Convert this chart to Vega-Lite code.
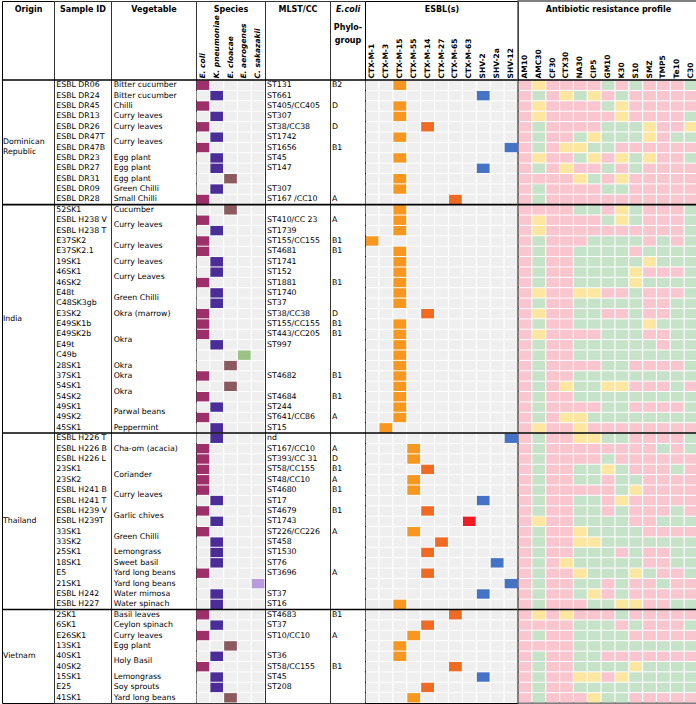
{
"$schema":"https://vega.github.io/schema/vega-lite/v6.json",
"background":"white",
"padding":0,
"spacing":0,
"bounds":"flush",
"resolve":{"scale":{"color":"independent"}},
"config":{
 "view":{"stroke":"#333333","strokeWidth":1},
 "font":"DejaVu Sans",
 "axis":{"labelFont":"DejaVu Sans","titleFont":"DejaVu Sans","labelColor":"black","titleColor":"black","titleFontSize":8,"titleFontWeight":"bold","labelFontSize":7.5,"labelFontWeight":"bold","ticks":false,"tickSize":0,"domain":false,"grid":false,"titlePadding":0,"titleBaseline":"middle","labelOverlap":false,"labelFlush":false,"labelLimit":0},
 "text":{"font":"DejaVu Sans","fontSize":7.8,"color":"black"}
},
"datasets":{"t":[
{"row":0,"origin":"Dominican Republic","id":"ESBL DR06","veg":"Bitter cucumber","vg":1,"species":"E. coli","mlst":"ST131","phylo":"B2","esbl":"CTX-M-15","AM10":"R","AMC30":"I","CF30":"R","CTX30":"R","NA30":"R","CIP5":"R","GM10":"S","K30":"R","S10":"S","SMZ":"R","TMP5":"R","Te10":"R","C30":"S"},
{"row":1,"origin":"Dominican Republic","id":"ESBL DR24","veg":"Bitter cucumber","vg":2,"species":"K. pneumoniae","mlst":"ST661","phylo":"","esbl":"SHV-2","AM10":"R","AMC30":"S","CF30":"R","CTX30":"I","NA30":"S","CIP5":"I","GM10":"R","K30":"S","S10":"R","SMZ":"R","TMP5":"R","Te10":"R","C30":"R"},
{"row":2,"origin":"Dominican Republic","id":"ESBL DR45","veg":"Chilli","vg":3,"species":"E. coli","mlst":"ST405/CC405","phylo":"D","esbl":"CTX-M-15","AM10":"R","AMC30":"I","CF30":"R","CTX30":"R","NA30":"R","CIP5":"R","GM10":"S","K30":"I","S10":"R","SMZ":"R","TMP5":"R","Te10":"R","C30":"R"},
{"row":3,"origin":"Dominican Republic","id":"ESBL DR13","veg":"Curry leaves","vg":4,"species":"K. pneumoniae","mlst":"ST307","phylo":"","esbl":"CTX-M-15","AM10":"R","AMC30":"I","CF30":"R","CTX30":"R","NA30":"R","CIP5":"R","GM10":"R","K30":"I","S10":"R","SMZ":"R","TMP5":"R","Te10":"R","C30":"S"},
{"row":4,"origin":"Dominican Republic","id":"ESBL DR26","veg":"Curry leaves","vg":5,"species":"E. coli","mlst":"ST38/CC38","phylo":"D","esbl":"CTX-M-14","AM10":"R","AMC30":"S","CF30":"R","CTX30":"R","NA30":"R","CIP5":"R","GM10":"S","K30":"S","S10":"S","SMZ":"I","TMP5":"R","Te10":"R","C30":"I"},
{"row":5,"origin":"Dominican Republic","id":"ESBL DR47T","veg":"Curry leaves","vg":6,"species":"K. pneumoniae","mlst":"ST1742","phylo":"","esbl":"CTX-M-15","AM10":"R","AMC30":"S","CF30":"R","CTX30":"R","NA30":"S","CIP5":"I","GM10":"S","K30":"S","S10":"S","SMZ":"I","TMP5":"R","Te10":"S","C30":"S"},
{"row":6,"origin":"Dominican Republic","id":"ESBL DR47B","veg":"Curry leaves","vg":6,"species":"E. coli","mlst":"ST1656","phylo":"B1","esbl":"SHV-12","AM10":"R","AMC30":"S","CF30":"R","CTX30":"I","NA30":"I","CIP5":"S","GM10":"S","K30":"R","S10":"R","SMZ":"R","TMP5":"R","Te10":"R","C30":"R"},
{"row":7,"origin":"Dominican Republic","id":"ESBL DR23","veg":"Egg plant","vg":7,"species":"K. pneumoniae","mlst":"ST45","phylo":"","esbl":"CTX-M-15","AM10":"R","AMC30":"I","CF30":"R","CTX30":"R","NA30":"S","CIP5":"I","GM10":"R","K30":"I","S10":"S","SMZ":"I","TMP5":"R","Te10":"R","C30":"S"},
{"row":8,"origin":"Dominican Republic","id":"ESBL DR27","veg":"Egg plant","vg":8,"species":"K. pneumoniae","mlst":"ST147","phylo":"","esbl":"SHV-2","AM10":"R","AMC30":"S","CF30":"R","CTX30":"I","NA30":"R","CIP5":"R","GM10":"S","K30":"R","S10":"S","SMZ":"R","TMP5":"R","Te10":"R","C30":"R"},
{"row":9,"origin":"Dominican Republic","id":"ESBL DR31","veg":"Egg plant","vg":9,"species":"E. cloacae","mlst":"","phylo":"","esbl":"CTX-M-15","AM10":"R","AMC30":"R","CF30":"R","CTX30":"R","NA30":"I","CIP5":"S","GM10":"R","K30":"I","S10":"R","SMZ":"R","TMP5":"R","Te10":"R","C30":"R"},
{"row":10,"origin":"Dominican Republic","id":"ESBL DR09","veg":"Green Chilli","vg":10,"species":"K. pneumoniae","mlst":"ST307","phylo":"","esbl":"CTX-M-15","AM10":"R","AMC30":"S","CF30":"R","CTX30":"R","NA30":"R","CIP5":"R","GM10":"S","K30":"S","S10":"R","SMZ":"R","TMP5":"R","Te10":"R","C30":"R"},
{"row":11,"origin":"Dominican Republic","id":"ESBL DR28","veg":"Small Chilli","vg":11,"species":"E. coli","mlst":"ST167 /CC10","phylo":"A","esbl":"CTX-M-65","AM10":"R","AMC30":"S","CF30":"R","CTX30":"R","NA30":"R","CIP5":"R","GM10":"R","K30":"R","S10":"R","SMZ":"R","TMP5":"R","Te10":"R","C30":"R"},
{"row":12,"origin":"India","id":"52SK1","veg":"Cucumber","vg":12,"species":"E. cloacae","mlst":"","phylo":"","esbl":"CTX-M-15","AM10":"R","AMC30":"R","CF30":"R","CTX30":"R","NA30":"S","CIP5":"S","GM10":"R","K30":"I","S10":"S","SMZ":"R","TMP5":"R","Te10":"R","C30":"S"},
{"row":13,"origin":"India","id":"ESBL H238 V","veg":"Curry leaves","vg":13,"species":"E. coli","mlst":"ST410/CC 23","phylo":"A","esbl":"CTX-M-15","AM10":"R","AMC30":"I","CF30":"R","CTX30":"R","NA30":"R","CIP5":"R","GM10":"S","K30":"I","S10":"S","SMZ":"R","TMP5":"R","Te10":"R","C30":"S"},
{"row":14,"origin":"India","id":"ESBL H238 T","veg":"Curry leaves","vg":13,"species":"K. pneumoniae","mlst":"ST1739","phylo":"","esbl":"CTX-M-15","AM10":"R","AMC30":"I","CF30":"R","CTX30":"R","NA30":"R","CIP5":"R","GM10":"R","K30":"R","S10":"R","SMZ":"R","TMP5":"R","Te10":"R","C30":"S"},
{"row":15,"origin":"India","id":"E37SK2","veg":"Curry leaves","vg":14,"species":"E. coli","mlst":"ST155/CC155","phylo":"B1","esbl":"CTX-M-1","AM10":"R","AMC30":"S","CF30":"R","CTX30":"R","NA30":"R","CIP5":"S","GM10":"S","K30":"S","S10":"S","SMZ":"R","TMP5":"S","Te10":"R","C30":"S"},
{"row":16,"origin":"India","id":"E37SK2.1","veg":"Curry leaves","vg":14,"species":"E. coli","mlst":"ST4681","phylo":"B1","esbl":"CTX-M-15","AM10":"R","AMC30":"S","CF30":"R","CTX30":"R","NA30":"S","CIP5":"S","GM10":"S","K30":"S","S10":"R","SMZ":"S","TMP5":"S","Te10":"S","C30":"S"},
{"row":17,"origin":"India","id":"19SK1","veg":"Curry leaves","vg":15,"species":"K. pneumoniae","mlst":"ST1741","phylo":"","esbl":"CTX-M-15","AM10":"R","AMC30":"S","CF30":"R","CTX30":"R","NA30":"S","CIP5":"S","GM10":"S","K30":"S","S10":"S","SMZ":"I","TMP5":"S","Te10":"S","C30":"S"},
{"row":18,"origin":"India","id":"46SK1","veg":"Curry Leaves","vg":16,"species":"K. pneumoniae","mlst":"ST152","phylo":"","esbl":"CTX-M-15","AM10":"R","AMC30":"S","CF30":"R","CTX30":"R","NA30":"S","CIP5":"S","GM10":"S","K30":"S","S10":"I","SMZ":"R","TMP5":"R","Te10":"R","C30":"S"},
{"row":19,"origin":"India","id":"46SK2","veg":"Curry Leaves","vg":16,"species":"E. coli","mlst":"ST1881","phylo":"B1","esbl":"CTX-M-15","AM10":"R","AMC30":"S","CF30":"R","CTX30":"R","NA30":"S","CIP5":"S","GM10":"S","K30":"S","S10":"I","SMZ":"S","TMP5":"S","Te10":"S","C30":"S"},
{"row":20,"origin":"India","id":"E48t","veg":"Green Chilli","vg":17,"species":"K. pneumoniae","mlst":"ST1740","phylo":"","esbl":"CTX-M-15","AM10":"R","AMC30":"I","CF30":"R","CTX30":"R","NA30":"I","CIP5":"I","GM10":"R","K30":"R","S10":"S","SMZ":"R","TMP5":"R","Te10":"R","C30":"S"},
{"row":21,"origin":"India","id":"C48SK3gb","veg":"Green Chilli","vg":17,"species":"K. pneumoniae","mlst":"ST37","phylo":"","esbl":"CTX-M-15","AM10":"R","AMC30":"S","CF30":"R","CTX30":"R","NA30":"S","CIP5":"S","GM10":"S","K30":"S","S10":"S","SMZ":"R","TMP5":"R","Te10":"S","C30":"S"},
{"row":22,"origin":"India","id":"E3SK2","veg":"Okra (marrow)","vg":18,"species":"E. coli","mlst":"ST38/CC38","phylo":"D","esbl":"CTX-M-14","AM10":"R","AMC30":"I","CF30":"R","CTX30":"R","NA30":"S","CIP5":"S","GM10":"R","K30":"R","S10":"S","SMZ":"R","TMP5":"R","Te10":"S","C30":"S"},
{"row":23,"origin":"India","id":"E49SK1b","veg":"Okra","vg":19,"species":"E. coli","mlst":"ST155/CC155","phylo":"B1","esbl":"CTX-M-15","AM10":"R","AMC30":"S","CF30":"R","CTX30":"R","NA30":"S","CIP5":"S","GM10":"S","K30":"S","S10":"S","SMZ":"I","TMP5":"S","Te10":"S","C30":"S"},
{"row":24,"origin":"India","id":"E49SK2b","veg":"Okra","vg":19,"species":"E. coli","mlst":"ST443/CC205","phylo":"B1","esbl":"CTX-M-15","AM10":"R","AMC30":"I","CF30":"R","CTX30":"R","NA30":"R","CIP5":"R","GM10":"S","K30":"S","S10":"S","SMZ":"R","TMP5":"R","Te10":"S","C30":"S"},
{"row":25,"origin":"India","id":"E49t","veg":"Okra","vg":19,"species":"K. pneumoniae","mlst":"ST997","phylo":"","esbl":"CTX-M-15","AM10":"R","AMC30":"S","CF30":"R","CTX30":"R","NA30":"S","CIP5":"S","GM10":"S","K30":"S","S10":"S","SMZ":"S","TMP5":"R","Te10":"S","C30":"S"},
{"row":26,"origin":"India","id":"C49b","veg":"Okra","vg":19,"species":"E. aerogenes","mlst":"","phylo":"","esbl":"CTX-M-15","AM10":"R","AMC30":"S","CF30":"R","CTX30":"R","NA30":"S","CIP5":"S","GM10":"S","K30":"S","S10":"S","SMZ":"S","TMP5":"S","Te10":"S","C30":"S"},
{"row":27,"origin":"India","id":"28SK1","veg":"Okra","vg":20,"species":"E. cloacae","mlst":"","phylo":"","esbl":"CTX-M-15","AM10":"R","AMC30":"S","CF30":"R","CTX30":"R","NA30":"R","CIP5":"R","GM10":"S","K30":"S","S10":"R","SMZ":"R","TMP5":"R","Te10":"R","C30":"S"},
{"row":28,"origin":"India","id":"37SK1","veg":"Okra","vg":21,"species":"E. coli","mlst":"ST4682","phylo":"B1","esbl":"CTX-M-15","AM10":"R","AMC30":"S","CF30":"R","CTX30":"R","NA30":"S","CIP5":"S","GM10":"S","K30":"S","S10":"S","SMZ":"S","TMP5":"S","Te10":"S","C30":"S"},
{"row":29,"origin":"India","id":"54SK1","veg":"Okra","vg":22,"species":"E. cloacae","mlst":"","phylo":"","esbl":"CTX-M-15","AM10":"R","AMC30":"S","CF30":"R","CTX30":"I","NA30":"S","CIP5":"S","GM10":"I","K30":"I","S10":"R","SMZ":"R","TMP5":"R","Te10":"S","C30":"R"},
{"row":30,"origin":"India","id":"54SK2","veg":"Okra","vg":22,"species":"E. coli","mlst":"ST4684","phylo":"B1","esbl":"CTX-M-15","AM10":"R","AMC30":"S","CF30":"R","CTX30":"R","NA30":"S","CIP5":"S","GM10":"S","K30":"S","S10":"S","SMZ":"S","TMP5":"S","Te10":"S","C30":"S"},
{"row":31,"origin":"India","id":"49SK1","veg":"Parwal beans","vg":23,"species":"K. pneumoniae","mlst":"ST244","phylo":"","esbl":"CTX-M-15","AM10":"R","AMC30":"S","CF30":"R","CTX30":"R","NA30":"R","CIP5":"R","GM10":"S","K30":"S","S10":"R","SMZ":"R","TMP5":"R","Te10":"R","C30":"S"},
{"row":32,"origin":"India","id":"49SK2","veg":"Parwal beans","vg":23,"species":"E. coli","mlst":"ST641/CC86","phylo":"A","esbl":"CTX-M-15","AM10":"R","AMC30":"S","CF30":"R","CTX30":"I","NA30":"I","CIP5":"S","GM10":"S","K30":"S","S10":"S","SMZ":"S","TMP5":"S","Te10":"S","C30":"S"},
{"row":33,"origin":"India","id":"45SK1","veg":"Peppermint","vg":24,"species":"K. pneumoniae","mlst":"ST15","phylo":"","esbl":"CTX-M-3","AM10":"R","AMC30":"I","CF30":"R","CTX30":"R","NA30":"I","CIP5":"R","GM10":"R","K30":"R","S10":"R","SMZ":"R","TMP5":"R","Te10":"R","C30":"R"},
{"row":34,"origin":"Thailand","id":"ESBL H226 T","veg":"Cha-om (acacia)","vg":25,"species":"K. pneumoniae","mlst":"nd","phylo":"","esbl":"SHV-12","AM10":"R","AMC30":"S","CF30":"R","CTX30":"R","NA30":"I","CIP5":"I","GM10":"S","K30":"S","S10":"R","SMZ":"R","TMP5":"R","Te10":"R","C30":"S"},
{"row":35,"origin":"Thailand","id":"ESBL H226 B","veg":"Cha-om (acacia)","vg":25,"species":"E. coli","mlst":"ST167/CC10","phylo":"A","esbl":"CTX-M-55","AM10":"R","AMC30":"S","CF30":"R","CTX30":"R","NA30":"R","CIP5":"R","GM10":"R","K30":"R","S10":"R","SMZ":"R","TMP5":"S","Te10":"R","C30":"S"},
{"row":36,"origin":"Thailand","id":"ESBL H226 L","veg":"Cha-om (acacia)","vg":25,"species":"E. coli","mlst":"ST393/CC 31","phylo":"D","esbl":"CTX-M-55","AM10":"R","AMC30":"S","CF30":"R","CTX30":"R","NA30":"R","CIP5":"R","GM10":"S","K30":"R","S10":"R","SMZ":"R","TMP5":"R","Te10":"R","C30":"R"},
{"row":37,"origin":"Thailand","id":"23SK1","veg":"Coriander","vg":26,"species":"E. coli","mlst":"ST58/CC155","phylo":"B1","esbl":"CTX-M-14","AM10":"R","AMC30":"S","CF30":"R","CTX30":"R","NA30":"S","CIP5":"S","GM10":"I","K30":"S","S10":"R","SMZ":"R","TMP5":"R","Te10":"S","C30":"R"},
{"row":38,"origin":"Thailand","id":"23SK2","veg":"Coriander","vg":26,"species":"E. coli","mlst":"ST48/CC10","phylo":"A","esbl":"CTX-M-55","AM10":"R","AMC30":"S","CF30":"R","CTX30":"R","NA30":"S","CIP5":"S","GM10":"R","K30":"S","S10":"S","SMZ":"R","TMP5":"R","Te10":"R","C30":"R"},
{"row":39,"origin":"Thailand","id":"ESBL H241 B","veg":"Curry leaves","vg":27,"species":"E. coli","mlst":"ST4680","phylo":"B1","esbl":"CTX-M-55","AM10":"R","AMC30":"S","CF30":"R","CTX30":"R","NA30":"R","CIP5":"R","GM10":"R","K30":"S","S10":"I","SMZ":"R","TMP5":"R","Te10":"R","C30":"R"},
{"row":40,"origin":"Thailand","id":"ESBL H241 T","veg":"Curry leaves","vg":27,"species":"K. pneumoniae","mlst":"ST17","phylo":"","esbl":"SHV-2","AM10":"R","AMC30":"S","CF30":"R","CTX30":"R","NA30":"S","CIP5":"S","GM10":"R","K30":"I","S10":"R","SMZ":"R","TMP5":"R","Te10":"R","C30":"R"},
{"row":41,"origin":"Thailand","id":"ESBL H239 V","veg":"Garlic chives","vg":28,"species":"E. coli","mlst":"ST4679","phylo":"B1","esbl":"CTX-M-14","AM10":"R","AMC30":"S","CF30":"R","CTX30":"R","NA30":"S","CIP5":"S","GM10":"R","K30":"S","S10":"R","SMZ":"R","TMP5":"R","Te10":"S","C30":"R"},
{"row":42,"origin":"Thailand","id":"ESBL H239T","veg":"Garlic chives","vg":28,"species":"K. pneumoniae","mlst":"ST1743","phylo":"","esbl":"CTX-M-63","AM10":"R","AMC30":"I","CF30":"R","CTX30":"R","NA30":"S","CIP5":"S","GM10":"S","K30":"S","S10":"R","SMZ":"R","TMP5":"S","Te10":"S","C30":"S"},
{"row":43,"origin":"Thailand","id":"33SK1","veg":"Green Chilli","vg":29,"species":"E. coli","mlst":"ST226/CC226","phylo":"A","esbl":"CTX-M-55","AM10":"R","AMC30":"S","CF30":"R","CTX30":"R","NA30":"I","CIP5":"S","GM10":"S","K30":"S","S10":"S","SMZ":"R","TMP5":"R","Te10":"R","C30":"R"},
{"row":44,"origin":"Thailand","id":"33SK2","veg":"Green Chilli","vg":29,"species":"K. pneumoniae","mlst":"ST458","phylo":"","esbl":"CTX-M-27","AM10":"R","AMC30":"S","CF30":"R","CTX30":"R","NA30":"I","CIP5":"I","GM10":"S","K30":"S","S10":"S","SMZ":"S","TMP5":"S","Te10":"S","C30":"S"},
{"row":45,"origin":"Thailand","id":"25SK1","veg":"Lemongrass","vg":30,"species":"K. pneumoniae","mlst":"ST1530","phylo":"","esbl":"CTX-M-14","AM10":"R","AMC30":"S","CF30":"R","CTX30":"R","NA30":"S","CIP5":"S","GM10":"S","K30":"R","S10":"S","SMZ":"R","TMP5":"R","Te10":"S","C30":"S"},
{"row":46,"origin":"Thailand","id":"18SK1","veg":"Sweet basil","vg":31,"species":"K. pneumoniae","mlst":"ST76","phylo":"","esbl":"SHV-2a","AM10":"R","AMC30":"S","CF30":"R","CTX30":"I","NA30":"S","CIP5":"S","GM10":"S","K30":"S","S10":"S","SMZ":"R","TMP5":"R","Te10":"S","C30":"S"},
{"row":47,"origin":"Thailand","id":"E5","veg":"Yard long beans","vg":32,"species":"E. coli","mlst":"ST3696","phylo":"A","esbl":"CTX-M-14","AM10":"R","AMC30":"S","CF30":"R","CTX30":"R","NA30":"I","CIP5":"S","GM10":"S","K30":"S","S10":"I","SMZ":"S","TMP5":"R","Te10":"R","C30":"S"},
{"row":48,"origin":"Thailand","id":"21SK1","veg":"Yard long beans","vg":33,"species":"C. sakazakii","mlst":"","phylo":"","esbl":"SHV-12","AM10":"R","AMC30":"S","CF30":"R","CTX30":"R","NA30":"S","CIP5":"S","GM10":"R","K30":"S","S10":"R","SMZ":"R","TMP5":"S","Te10":"R","C30":"R"},
{"row":49,"origin":"Thailand","id":"ESBL H242","veg":"Water mimosa","vg":34,"species":"K. pneumoniae","mlst":"ST37","phylo":"","esbl":"SHV-2","AM10":"R","AMC30":"S","CF30":"R","CTX30":"R","NA30":"S","CIP5":"I","GM10":"R","K30":"S","S10":"R","SMZ":"R","TMP5":"R","Te10":"R","C30":"R"},
{"row":50,"origin":"Thailand","id":"ESBL H227","veg":"Water spinach","vg":35,"species":"K. pneumoniae","mlst":"ST16","phylo":"","esbl":"CTX-M-15","AM10":"R","AMC30":"S","CF30":"R","CTX30":"R","NA30":"R","CIP5":"S","GM10":"S","K30":"I","S10":"I","SMZ":"R","TMP5":"R","Te10":"S","C30":"S"},
{"row":51,"origin":"Vietnam","id":"2SK1","veg":"Basil leaves","vg":36,"species":"E. coli","mlst":"ST4683","phylo":"B1","esbl":"CTX-M-65","AM10":"R","AMC30":"I","CF30":"R","CTX30":"I","NA30":"R","CIP5":"R","GM10":"R","K30":"S","S10":"R","SMZ":"R","TMP5":"R","Te10":"R","C30":"R"},
{"row":52,"origin":"Vietnam","id":"6SK1","veg":"Ceylon spinach","vg":37,"species":"K. pneumoniae","mlst":"ST37","phylo":"","esbl":"CTX-M-14","AM10":"R","AMC30":"R","CF30":"R","CTX30":"R","NA30":"S","CIP5":"S","GM10":"S","K30":"R","S10":"S","SMZ":"R","TMP5":"R","Te10":"R","C30":"S"},
{"row":53,"origin":"Vietnam","id":"E26SK1","veg":"Curry leaves","vg":38,"species":"E. coli","mlst":"ST10/CC10","phylo":"A","esbl":"CTX-M-55","AM10":"R","AMC30":"S","CF30":"R","CTX30":"R","NA30":"S","CIP5":"S","GM10":"S","K30":"S","S10":"R","SMZ":"R","TMP5":"R","Te10":"R","C30":"R"},
{"row":54,"origin":"Vietnam","id":"13SK1","veg":"Egg plant","vg":39,"species":"E. cloacae","mlst":"","phylo":"","esbl":"CTX-M-15","AM10":"R","AMC30":"R","CF30":"R","CTX30":"R","NA30":"S","CIP5":"S","GM10":"S","K30":"S","S10":"S","SMZ":"S","TMP5":"S","Te10":"S","C30":"S"},
{"row":55,"origin":"Vietnam","id":"40SK1","veg":"Holy Basil","vg":40,"species":"K. pneumoniae","mlst":"ST36","phylo":"","esbl":"CTX-M-15","AM10":"R","AMC30":"S","CF30":"R","CTX30":"R","NA30":"S","CIP5":"S","GM10":"R","K30":"R","S10":"R","SMZ":"R","TMP5":"R","Te10":"R","C30":"R"},
{"row":56,"origin":"Vietnam","id":"40SK2","veg":"Holy Basil","vg":40,"species":"E. coli","mlst":"ST58/CC155","phylo":"B1","esbl":"CTX-M-65","AM10":"R","AMC30":"S","CF30":"R","CTX30":"R","NA30":"S","CIP5":"S","GM10":"S","K30":"S","S10":"I","SMZ":"S","TMP5":"S","Te10":"S","C30":"S"},
{"row":57,"origin":"Vietnam","id":"15SK1","veg":"Lemongrass","vg":41,"species":"K. pneumoniae","mlst":"ST45","phylo":"","esbl":"SHV-2","AM10":"R","AMC30":"S","CF30":"R","CTX30":"R","NA30":"I","CIP5":"I","GM10":"R","K30":"I","S10":"S","SMZ":"S","TMP5":"S","Te10":"S","C30":"S"},
{"row":58,"origin":"Vietnam","id":"E25","veg":"Soy sprouts","vg":42,"species":"K. pneumoniae","mlst":"ST208","phylo":"","esbl":"CTX-M-14","AM10":"R","AMC30":"S","CF30":"R","CTX30":"R","NA30":"S","CIP5":"S","GM10":"S","K30":"S","S10":"S","SMZ":"S","TMP5":"S","Te10":"S","C30":"S"},
{"row":59,"origin":"Vietnam","id":"41SK1","veg":"Yard long beans","vg":43,"species":"E. cloacae","mlst":"","phylo":"","esbl":"CTX-M-55","AM10":"R","AMC30":"S","CF30":"R","CTX30":"R","NA30":"R","CIP5":"I","GM10":"S","K30":"S","S10":"R","SMZ":"R","TMP5":"R","Te10":"R","C30":"R"}
]},
"hconcat":[
{"width":52,"height":702,"data":{"name":"t"},
 "view":{"stroke":"black","strokeWidth":1},
 "layer":[
  {"mark":{"type":"text","align":"left","baseline":"middle","dx":-25,"lineBreak":" ","lineHeight":9.5},
   "encoding":{
    "x":{"datum":"Origin","type":"nominal","axis":{"orient":"top","offset":-79,"labels":false,"title":"Origin","titleY":-71}},
    "y":{"aggregate":"mean","field":"row","type":"quantitative","scale":{"domain":[-8.1145,59.5],"reverse":true,"nice":false,"zero":false},"axis":null},
    "text":{"field":"origin","type":"nominal"}}},
  {"mark":{"type":"rule","color":"black","strokeWidth":1.6,"yOffset":-5.19},
   "encoding":{"y":{"aggregate":"min","field":"row","type":"quantitative","scale":{"domain":[-8.1145,59.5],"reverse":true,"nice":false,"zero":false},"axis":null},"detail":{"field":"origin","type":"nominal"}}}
 ]},
{"width":57,"height":702,"data":{"name":"t"},
 "layer":[
  {"mark":{"type":"text","align":"left","baseline":"middle","dx":-26.2},
   "encoding":{
    "x":{"datum":"Sample ID","type":"nominal","axis":{"orient":"top","offset":-79,"labels":false,"title":"Sample ID","titleY":-71}},
    "y":{"field":"row","type":"quantitative","scale":{"domain":[-8.1145,59.5],"reverse":true,"nice":false,"zero":false},"axis":null},
    "text":{"field":"id","type":"nominal"}}},
  {"mark":{"type":"rule","color":"black","strokeWidth":1.6,"yOffset":-5.19},
   "encoding":{"y":{"aggregate":"min","field":"row","type":"quantitative","scale":{"domain":[-8.1145,59.5],"reverse":true,"nice":false,"zero":false},"axis":null},"detail":{"field":"origin","type":"nominal"}}}
 ]},
{"width":85,"height":702,"data":{"name":"t"},
 "layer":[
  {"mark":{"type":"text","align":"left","baseline":"middle","dx":-39.8},
   "encoding":{
    "x":{"datum":"Vegetable","type":"nominal","axis":{"orient":"top","offset":-79,"labels":false,"title":"Vegetable","titleY":-71}},
    "y":{"aggregate":"mean","field":"row","type":"quantitative","scale":{"domain":[-8.1145,59.5],"reverse":true,"nice":false,"zero":false},"axis":null},
    "text":{"field":"veg","type":"nominal"},
    "detail":{"field":"vg","type":"nominal"}}},
  {"mark":{"type":"rule","color":"black","strokeWidth":1.6,"yOffset":-5.19},
   "encoding":{"y":{"aggregate":"min","field":"row","type":"quantitative","scale":{"domain":[-8.1145,59.5],"reverse":true,"nice":false,"zero":false},"axis":null},"detail":{"field":"origin","type":"nominal"}}}
 ]},
{"width":69,"height":702,"data":{"name":"t"},
 "layer":[
  {"transform":[{"impute":"id","key":"species","keyvals":["E. coli","K. pneumoniae","E. cloacae","E. aerogenes","C. sakazakii"],"groupby":["row"],"value":"-"}],
   "mark":{"type":"rect","height":9.4,"width":{"band":0.92}},
   "encoding":{
    "x":{"field":"species","type":"nominal","scale":{"domain":["E. coli","K. pneumoniae","E. cloacae","E. aerogenes","C. sakazakii"],"paddingInner":0,"paddingOuter":0},
         "axis":{"orient":"top","offset":-79,"labelAngle":-90,"labelAlign":"left","labelBaseline":"middle","labelPadding":2,"labelFontStyle":"italic","title":"Species","titleY":-71}},
    "y":{"field":"row","type":"quantitative","scale":{"domain":[-8.1145,59.5],"reverse":true,"nice":false,"zero":false},"axis":null},
    "color":{"condition":{"test":"datum.id != '-'","field":"species","type":"nominal","scale":{"domain":["E. coli","K. pneumoniae","E. cloacae","E. aerogenes","C. sakazakii"],"range":["#9E2F6A","#4B2D99","#8A5A5E","#9CC285","#B89BDA"]},"legend":null},"value":"#EFEFEF"}}},
  {"mark":{"type":"rule","color":"black","strokeWidth":1.6,"yOffset":-5.19},
   "encoding":{"y":{"aggregate":"min","field":"row","type":"quantitative","scale":{"domain":[-8.1145,59.5],"reverse":true,"nice":false,"zero":false},"axis":null},"detail":{"field":"origin","type":"nominal"}}}
 ]},
{"width":65,"height":702,"data":{"name":"t"},
 "layer":[
  {"mark":{"type":"text","align":"left","baseline":"middle","dx":-30.5},
   "encoding":{
    "x":{"datum":"MLST/CC","type":"nominal","axis":{"orient":"top","offset":-79,"labels":false,"title":"MLST/CC","titleY":-71}},
    "y":{"field":"row","type":"quantitative","scale":{"domain":[-8.1145,59.5],"reverse":true,"nice":false,"zero":false},"axis":null},
    "text":{"field":"mlst","type":"nominal"}}},
  {"mark":{"type":"rule","color":"black","strokeWidth":1.6,"yOffset":-5.19},
   "encoding":{"y":{"aggregate":"min","field":"row","type":"quantitative","scale":{"domain":[-8.1145,59.5],"reverse":true,"nice":false,"zero":false},"axis":null},"detail":{"field":"origin","type":"nominal"}}}
 ]},
{"width":35,"height":702,"data":{"name":"t"},
 "layer":[
  {"mark":{"type":"text","align":"left","baseline":"middle","dx":-15.5},
   "encoding":{
    "x":{"datum":"Phylogroup","type":"nominal","axis":{"orient":"top","offset":-79,"labelExpr":"['Phylo-','group']","labelAngle":0,"labelAlign":"center","labelBaseline":"middle","labelPadding":52.5,"labelLineHeight":12.5,"labelFontSize":8,"title":"E.coli","titleFontStyle":"italic","titleY":-71}},
    "y":{"field":"row","type":"quantitative","scale":{"domain":[-8.1145,59.5],"reverse":true,"nice":false,"zero":false},"axis":null},
    "text":{"field":"phylo","type":"nominal"}}},
  {"mark":{"type":"rule","color":"black","strokeWidth":1.6,"yOffset":-5.19},
   "encoding":{"y":{"aggregate":"min","field":"row","type":"quantitative","scale":{"domain":[-8.1145,59.5],"reverse":true,"nice":false,"zero":false},"axis":null},"detail":{"field":"origin","type":"nominal"}}}
 ]},
{"width":153,"height":702,"data":{"name":"t"},
 "view":{"stroke":"black","strokeWidth":1},
 "layer":[
  {"transform":[{"impute":"id","key":"esbl","keyvals":["CTX-M-1","CTX-M-3","CTX-M-15","CTX-M-55","CTX-M-14","CTX-M-27","CTX-M-65","CTX-M-63","SHV-2","SHV-2a","SHV-12"],"groupby":["row"],"value":"-"}],
   "mark":{"type":"rect","height":9.4,"width":{"band":0.92}},
   "encoding":{
    "x":{"field":"esbl","type":"nominal","scale":{"domain":["CTX-M-1","CTX-M-3","CTX-M-15","CTX-M-55","CTX-M-14","CTX-M-27","CTX-M-65","CTX-M-63","SHV-2","SHV-2a","SHV-12"],"paddingInner":0,"paddingOuter":0},
         "axis":{"orient":"top","offset":-79,"labelAngle":-90,"labelAlign":"left","labelBaseline":"middle","labelPadding":2,"title":"ESBL(s)","titleY":-71}},
    "y":{"field":"row","type":"quantitative","scale":{"domain":[-8.1145,59.5],"reverse":true,"nice":false,"zero":false},"axis":null},
    "color":{"condition":{"test":"datum.id != '-'","field":"esbl","type":"nominal","scale":{"domain":["CTX-M-1","CTX-M-3","CTX-M-15","CTX-M-55","CTX-M-14","CTX-M-27","CTX-M-65","CTX-M-63","SHV-2","SHV-2a","SHV-12"],"range":["#F7971F","#F7971F","#F7971F","#F7971F","#F06A24","#F06A24","#F06A24","#EE1C25","#4472C4","#4472C4","#4472C4"]},"legend":null},"value":"#EFEFEF"}}},
  {"mark":{"type":"rule","color":"black","strokeWidth":1.6,"yOffset":-5.19},
   "encoding":{"y":{"aggregate":"min","field":"row","type":"quantitative","scale":{"domain":[-8.1145,59.5],"reverse":true,"nice":false,"zero":false},"axis":null},"detail":{"field":"origin","type":"nominal"}}}
 ]},
{"width":180,"height":702,"data":{"name":"t"},
 "view":{"stroke":"#555555","strokeWidth":1.5},
 "layer":[
  {"transform":[{"fold":["AM10","AMC30","CF30","CTX30","NA30","CIP5","GM10","K30","S10","SMZ","TMP5","Te10","C30"],"as":["abx","res"]}],
   "mark":{"type":"rect","height":9.4,"width":{"band":0.92}},
   "encoding":{
    "x":{"field":"abx","type":"nominal","scale":{"domain":["AM10","AMC30","CF30","CTX30","NA30","CIP5","GM10","K30","S10","SMZ","TMP5","Te10","C30"],"paddingInner":0,"paddingOuter":0},
         "axis":{"orient":"top","offset":-79,"labelAngle":-90,"labelAlign":"left","labelBaseline":"middle","labelPadding":2,"title":"Antibiotic resistance profile","titleY":-71}},
    "y":{"field":"row","type":"quantitative","scale":{"domain":[-8.1145,59.5],"reverse":true,"nice":false,"zero":false},"axis":null},
    "color":{"field":"res","type":"nominal","scale":{"domain":["R","I","S"],"range":["#F9C6CF","#FCE6A0","#C6E2C8"]},"legend":null}}},
  {"mark":{"type":"rule","color":"black","strokeWidth":1.6,"yOffset":-5.19},
   "encoding":{"y":{"aggregate":"min","field":"row","type":"quantitative","scale":{"domain":[-8.1145,59.5],"reverse":true,"nice":false,"zero":false},"axis":null},"detail":{"field":"origin","type":"nominal"}}}
 ]}
]
}
